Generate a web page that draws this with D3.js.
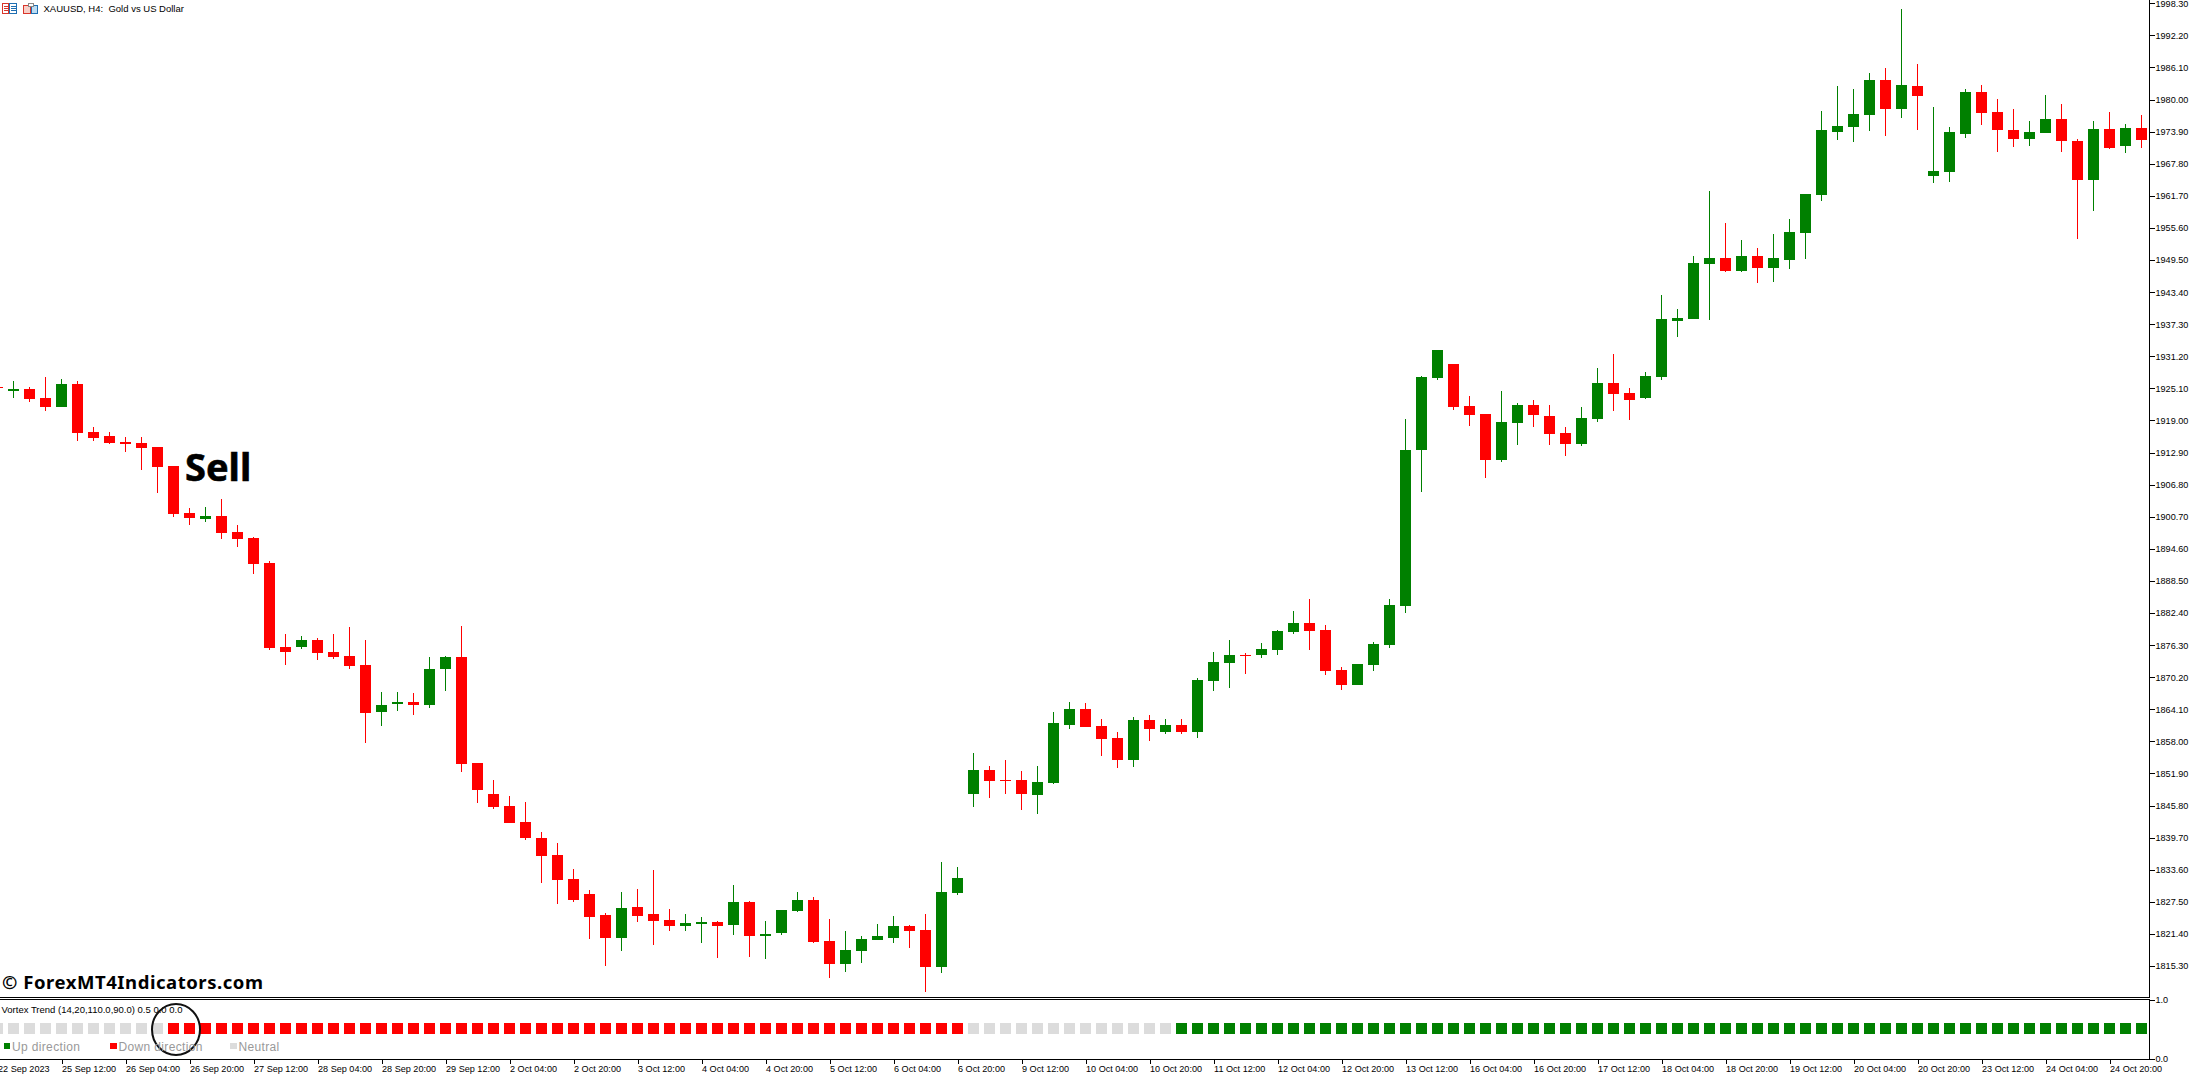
<!DOCTYPE html>
<html><head><meta charset="utf-8">
<script src="https://cdn.jsdelivr.net/npm/d3@7"></script>
<style>html,body{margin:0;padding:0;background:#fff;overflow:hidden}svg{display:block}text{white-space:pre}</style>
</head><body><div id="chart"></div>
<script>
const opens=[
1925.36,1924.60,1924.98,1923.27,1921.56,1925.93,1916.81,1916.05,1914.91,1914.72,
1913.96,1910.34,1901.41,1900.27,1900.84,1897.80,1896.66,1891.90,1875.93,1875.93,
1877.27,1874.98,1874.22,1872.51,1863.58,1865.10,1865.48,1864.91,1871.75,1874.03,
1853.88,1847.99,1845.71,1842.67,1839.63,1836.39,1831.83,1828.98,1824.99,1820.62,
1826.51,1825.18,1824.04,1822.90,1823.28,1823.66,1823.09,1827.46,1821.00,1821.57,
1825.75,1827.84,1820.05,1815.67,1818.14,1820.24,1820.62,1822.90,1822.14,1815.10,
1829.17,1847.99,1852.55,1850.65,1850.65,1847.80,1850.08,1861.11,1864.15,1860.92,
1858.64,1854.45,1862.06,1859.78,1861.11,1859.78,1869.47,1872.89,1874.41,1874.41,
1875.36,1878.79,1880.50,1879.17,1871.56,1868.71,1872.51,1876.32,1883.73,1913.38,
1927.07,1929.73,1921.75,1920.23,1911.48,1918.52,1921.94,1919.85,1916.62,1914.53,
1919.28,1926.12,1924.22,1923.27,1927.26,1937.91,1938.29,1948.74,1949.88,1947.41,
1950.26,1947.98,1949.50,1954.64,1961.86,1973.84,1974.79,1977.07,1983.72,1978.21,
1982.58,1965.47,1966.23,1973.46,1981.44,1977.64,1974.22,1972.51,1973.65,1976.31,
1972.13,1964.71,1974.41,1971.18,1974.60];
const highs=[
1925.36,1926.50,1925.36,1927.26,1926.88,1926.50,1917.76,1916.81,1915.86,1915.86,
1913.96,1910.34,1902.36,1902.55,1904.07,1899.13,1896.85,1892.28,1878.41,1878.03,
1877.65,1878.41,1879.74,1877.27,1867.38,1867.38,1867.19,1874.03,1874.22,1879.93,
1853.88,1850.65,1847.61,1846.47,1840.77,1838.68,1833.73,1829.74,1825.37,1829.36,
1829.93,1833.54,1826.13,1825.18,1824.61,1823.85,1830.69,1827.65,1823.85,1825.94,
1829.36,1828.41,1824.23,1821.95,1821.00,1823.28,1824.80,1823.09,1825.18,1835.06,
1834.11,1855.78,1853.31,1854.45,1852.36,1853.31,1863.58,1865.48,1865.29,1862.25,
1859.78,1862.63,1863.01,1862.25,1862.25,1870.04,1874.98,1877.27,1874.79,1876.70,
1879.17,1882.78,1885.06,1880.12,1872.13,1872.70,1876.89,1885.06,1919.28,1927.45,
1932.39,1929.73,1923.65,1920.23,1924.60,1922.32,1922.89,1921.94,1917.76,1921.56,
1928.97,1931.63,1925.17,1928.21,1942.85,1940.19,1950.26,1962.62,1956.54,1953.31,
1951.79,1954.45,1957.30,1962.05,1977.83,1982.58,1982.01,1985.05,1986.00,1997.22,
1986.76,1978.59,1974.79,1982.01,1982.77,1980.11,1978.21,1975.93,1980.87,1979.16,
1972.51,1975.93,1977.64,1975.36,1977.07];
const lows=[
1925.17,1923.27,1922.51,1920.80,1921.56,1915.10,1915.10,1914.53,1913.00,1909.58,
1905.21,1900.65,1899.13,1899.70,1896.47,1894.95,1889.81,1875.36,1872.51,1875.56,
1873.46,1873.65,1871.75,1857.69,1860.92,1863.77,1863.01,1864.34,1867.57,1852.17,
1846.28,1845.14,1842.48,1839.25,1831.07,1827.08,1827.46,1820.43,1815.29,1818.14,
1823.66,1819.29,1821.95,1821.95,1819.67,1816.81,1821.19,1817.00,1816.62,1821.19,
1825.56,1819.67,1813.01,1814.15,1815.86,1820.24,1819.67,1818.72,1810.35,1813.96,
1828.79,1845.52,1847.23,1847.99,1844.95,1844.19,1849.89,1860.35,1860.73,1855.21,
1852.93,1853.12,1858.07,1859.40,1859.40,1858.64,1867.57,1868.14,1870.80,1873.84,
1874.41,1878.41,1875.36,1870.61,1867.76,1868.71,1871.37,1875.75,1882.40,1905.40,
1926.69,1920.99,1917.95,1908.06,1911.10,1914.34,1917.76,1914.34,1912.24,1914.15,
1918.71,1920.80,1919.09,1923.08,1926.69,1934.87,1938.29,1938.10,1947.22,1947.22,
1945.13,1945.32,1947.79,1949.69,1960.72,1972.32,1971.94,1974.03,1973.08,1976.50,
1974.22,1964.14,1964.33,1972.70,1975.17,1970.03,1970.99,1971.18,1973.65,1970.03,
1953.50,1958.82,1970.60,1969.84,1970.79];
const closes=[
1925.17,1924.98,1923.08,1921.56,1925.93,1916.62,1915.67,1914.72,1914.53,1913.77,
1910.15,1901.22,1900.46,1900.84,1897.61,1896.47,1891.71,1875.75,1874.98,1877.27,
1874.79,1874.03,1872.32,1863.39,1864.91,1865.48,1864.91,1871.75,1874.03,1853.69,
1848.75,1845.52,1842.48,1839.63,1836.20,1831.64,1827.84,1824.61,1820.62,1826.32,
1824.80,1823.85,1822.90,1823.47,1823.66,1822.90,1827.46,1821.00,1821.38,1825.94,
1827.84,1819.86,1815.67,1818.33,1820.43,1821.00,1822.90,1821.95,1815.10,1829.36,
1832.02,1852.55,1850.46,1850.46,1847.99,1850.27,1861.49,1864.15,1860.73,1858.45,
1854.45,1862.06,1860.35,1861.11,1859.78,1869.66,1873.08,1874.41,1874.22,1875.56,
1878.98,1880.50,1878.98,1871.37,1868.71,1872.70,1876.51,1883.92,1913.38,1927.26,
1932.39,1921.56,1920.04,1911.48,1918.71,1921.94,1920.04,1916.43,1914.53,1919.47,
1926.12,1924.03,1922.89,1927.45,1938.29,1938.48,1948.93,1949.88,1947.41,1950.26,
1947.98,1949.88,1954.83,1962.05,1974.22,1974.98,1977.26,1983.72,1978.21,1982.77,
1980.68,1966.42,1973.84,1981.44,1977.45,1974.22,1972.51,1973.84,1976.31,1972.13,
1964.71,1974.41,1970.79,1974.60,1972.32];
const priceLabels=["1998.30","1992.20","1986.10","1980.00","1973.90","1967.80","1961.70","1955.60","1949.50","1943.40","1937.30","1931.20","1925.10","1919.00","1912.90","1906.80","1900.70","1894.60","1888.50","1882.40","1876.30","1870.20","1864.10","1858.00","1851.90","1845.80","1839.70","1833.60","1827.50","1821.40","1815.30"];
const dateLabels=["22 Sep 2023","25 Sep 12:00","26 Sep 04:00","26 Sep 20:00","27 Sep 12:00","28 Sep 04:00","28 Sep 20:00","29 Sep 12:00","2 Oct 04:00","2 Oct 20:00","3 Oct 12:00","4 Oct 04:00","4 Oct 20:00","5 Oct 12:00","6 Oct 04:00","6 Oct 20:00","9 Oct 12:00","10 Oct 04:00","10 Oct 20:00","11 Oct 12:00","12 Oct 04:00","12 Oct 20:00","13 Oct 12:00","16 Oct 04:00","16 Oct 20:00","17 Oct 12:00","18 Oct 04:00","18 Oct 20:00","19 Oct 12:00","20 Oct 04:00","20 Oct 20:00","23 Oct 12:00","24 Oct 04:00","24 Oct 20:00"];
// One state per candle: N neutral, D down direction, U up direction
const trendStates=("NNNNNNNNNNN"+
"DDDDDDDDDDDDDDDDDDDDDDDDDDDDDDDDDDDDDDDDDDDDDDDDDD"+
"NNNNNNNNNNNNN"+
"UUUUUUUUUUUUUUUUUUUUUUUUUUUUUUUUUUUUUUUUUUUUUUUUUUUUUUUUUUUUU").split("");
const legendItems=[["Up direction","U"],["Down direction","D"],["Neutral","N"]];
const trendValue=0.5, trendTicks=[1,0];

const UP="#008000",DOWN="#ff0000",NEUTRAL="#dcdcdc";
const stateColor={U:UP,D:DOWN,N:NEUTRAL};
const W=2192,H=1076,axisX=2150,mainBottom=997.5,indTop=999.5,indBottom=1059.5;
const FONT='"Liberation Sans",Arial,sans-serif';

const x=d3.scaleLinear().domain([0,134]).range([-2.5,2141.5]);
const y=d3.scaleLinear().domain([1998.3,1815.3]).range([3.3,966]);
const yInd=d3.scaleLinear().domain([0,1]).range([1058.5,1000]);
const ry=v=>Math.round(y(v));

const svg=d3.select("#chart").append("svg").attr("width",W).attr("height",H).attr("viewBox",`0 0 ${W} ${H}`);
svg.append("rect").attr("width",W).attr("height",H).attr("fill","#fff");

const idx=d3.range(opens.length);
const clipG=svg.append("g");
const color=i=>closes[i]>opens[i]?UP:DOWN;
clipG.selectAll("rect.wick").data(idx).join("rect").attr("class","wick")
 .attr("x",i=>x(i)-0.5).attr("width",1)
 .attr("y",i=>ry(highs[i])).attr("height",i=>Math.max(1,ry(lows[i])-ry(highs[i])))
 .attr("fill",color).attr("shape-rendering","crispEdges");
clipG.selectAll("rect.body").data(idx).join("rect").attr("class","body")
 .attr("x",i=>x(i)-5.5).attr("width",11)
 .attr("y",i=>ry(Math.max(opens[i],closes[i])))
 .attr("height",i=>Math.max(1,ry(Math.min(opens[i],closes[i]))-ry(Math.max(opens[i],closes[i]))))
 .attr("fill",color).attr("shape-rendering","crispEdges");

// Indicator squares
svg.append("g").selectAll("rect").data(trendStates).join("rect")
 .attr("x",(d,i)=>x(i)-5.5).attr("width",11)
 .attr("y",Math.round(yInd(trendValue))-6).attr("height",11)
 .attr("fill",d=>stateColor[d]).attr("shape-rendering","crispEdges");

// Frame
const frame=svg.append("g").attr("stroke","#000").attr("stroke-width",1).attr("shape-rendering","crispEdges");
frame.append("line").attr("x1",0).attr("x2",axisX).attr("y1",mainBottom).attr("y2",mainBottom);
frame.append("line").attr("x1",0).attr("x2",axisX).attr("y1",indTop).attr("y2",indTop);
frame.append("line").attr("x1",0).attr("x2",axisX).attr("y1",indBottom).attr("y2",indBottom);
frame.append("line").attr("x1",axisX-.5).attr("x2",axisX-.5).attr("y1",0).attr("y2",mainBottom+.5);
frame.append("line").attr("x1",axisX-.5).attr("x2",axisX-.5).attr("y1",indTop).attr("y2",indBottom+.5);

function styleAxis(g){
  g.select(".domain").remove();
  g.selectAll("line").attr("stroke","#000").attr("shape-rendering","crispEdges");
  g.selectAll("text").attr("fill","#000").style("font-family",FONT).style("font-size","9.1px");
}
// Price axis
svg.append("g").attr("transform",`translate(${axisX-.5},0)`)
 .call(d3.axisRight(y).tickValues(priceLabels.map(Number)).tickFormat((d,i)=>priceLabels[i]).tickSize(5).tickPadding(1))
 .call(styleAxis);
// Indicator axis
svg.append("g").attr("transform",`translate(${axisX-.5},0)`)
 .call(d3.axisRight(yInd).tickValues(trendTicks).tickFormat(d3.format(".1f")).tickSize(5).tickPadding(1))
 .call(styleAxis);
// Time axis
const timeAxis=d3.axisBottom(x).tickValues(dateLabels.map((d,i)=>i*4)).tickFormat((d,i)=>dateLabels[i]).tickSize(4).tickPadding(2);
svg.append("g").attr("transform",`translate(0,${indBottom})`).call(timeAxis).call(styleAxis)
 .selectAll("text").attr("text-anchor","start").attr("x",0);

// Header
const hdr=svg.append("g").attr("shape-rendering","crispEdges");
const box=(px,py,w,h,fill,stroke)=>hdr.append("rect").attr("x",px).attr("y",py).attr("width",w).attr("height",h).attr("fill",fill).attr("stroke",stroke);
box(2.5,3.5,6,10,"#fff","#d9362b");box(9.5,3.5,7,10,"#fff","#1f6fb2");
[6,8,10].forEach(v=>{hdr.append("line").attr("x1",4).attr("x2",8).attr("y1",v+.5).attr("y2",v+.5).attr("stroke","#d9362b");
 hdr.append("line").attr("x1",11).attr("x2",16).attr("y1",v+.5).attr("y2",v+.5).attr("stroke","#1f6fb2");});
box(23.5,5.5,7,8,"#f7cfc8","#d9362b");box(31.5,5.5,6,8,"#bcdcf2","#1f6fb2");
box(28.5,3.5,5,3,"#fff","#888");
svg.append("text").attr("x",43.5).attr("y",12).style("font-family",FONT).style("font-size","9.5px").attr("fill","#000").text("XAUUSD, H4:  Gold vs US Dollar");

// Annotations
svg.append("text").attr("x",185).attr("y",480.5).style("font-family",'"Noto Sans",sans-serif').style("font-weight",700).style("font-size","38px").attr("fill","#000").attr("stroke","#000").attr("stroke-width",0.6).text("Sell");
svg.append("text").attr("x",2).attr("y",989).attr("textLength",261).attr("lengthAdjust","spacing").style("font-family",'"Noto Sans",sans-serif').style("font-weight",700).style("font-size","18.5px").attr("fill","#000").text("© ForexMT4Indicators.com");
svg.append("text").attr("x",1.5).attr("y",1012.5).style("font-family",FONT).style("font-size","9.5px").attr("fill","#000").text("Vortex Trend (14,20,110.0,90.0) 0.5 0.0 0.0");
svg.append("ellipse").attr("cx",176).attr("cy",1029.5).attr("rx",24).attr("ry",25.5).attr("fill","none").attr("stroke","#111").attr("stroke-width",2);

// Legend
const lx=[3.5,110,230];
legendItems.forEach(([t,s],k)=>{
  svg.append("rect").attr("x",lx[k]).attr("y",1043).attr("width",6.5).attr("height",6).attr("fill",stateColor[s]).attr("shape-rendering","crispEdges");
  svg.append("text").attr("x",lx[k]+8.5).attr("y",1051).style("font-family",FONT).style("font-size","12px").style("letter-spacing","0.35px").attr("fill","#999").text(t);
});
</script></body></html>
